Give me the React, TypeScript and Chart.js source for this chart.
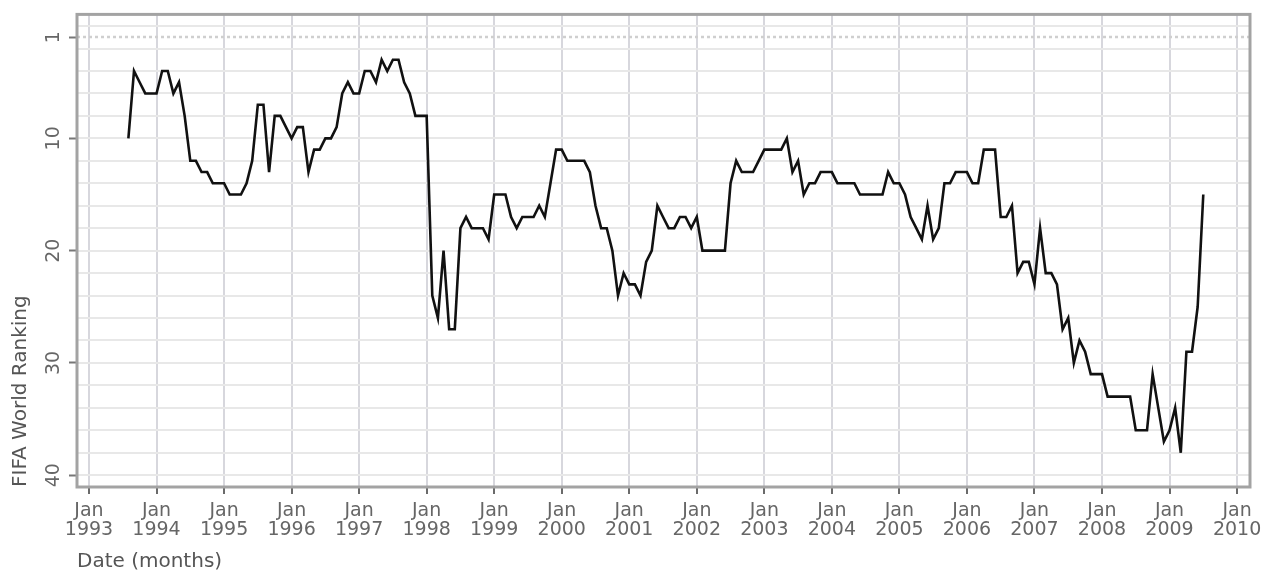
import React, { useEffect, useRef } from 'react';
import { Chart, registerables } from 'chart.js';

Chart.register(...registerables);

// ---- Data: monthly FIFA World Ranking, Aug 1993 – Jul 2009 ----
const FIRST_YEAR = 1993;
const FIRST_MONTH = 7; // August (0 = January)
const rank1993 = [10, 4, 5, 6, 6]; // Aug–Dec
const rank1994 = [6, 4, 4, 6, 5, 8, 12, 12, 13, 13, 14, 14];
const rank1995 = [14, 15, 15, 15, 14, 12, 7, 7, 13, 8, 8, 9];
const rank1996 = [10, 9, 9, 13, 11, 11, 10, 10, 9, 6, 5, 6];
const rank1997 = [6, 4, 4, 5, 3, 4, 3, 3, 5, 6, 8, 8];
const rank1998 = [8, 24, 26, 20, 27, 27, 18, 17, 18, 18, 18, 19];
const rank1999 = [15, 15, 15, 17, 18, 17, 17, 17, 16, 17, 14, 11];
const rank2000 = [11, 12, 12, 12, 12, 13, 16, 18, 18, 20, 24, 22];
const rank2001 = [23, 23, 24, 21, 20, 16, 17, 18, 18, 17, 17, 18];
const rank2002 = [17, 20, 20, 20, 20, 20, 14, 12, 13, 13, 13, 12];
const rank2003 = [11, 11, 11, 11, 10, 13, 12, 15, 14, 14, 13, 13];
const rank2004 = [13, 14, 14, 14, 14, 15, 15, 15, 15, 15, 13, 14];
const rank2005 = [14, 15, 17, 18, 19, 16, 19, 18, 14, 14, 13, 13];
const rank2006 = [13, 14, 14, 11, 11, 11, 17, 17, 16, 22, 21, 21];
const rank2007 = [23, 18, 22, 22, 23, 27, 26, 30, 28, 29, 31, 31];
const rank2008 = [31, 33, 33, 33, 33, 33, 36, 36, 36, 31, 34, 37];
const rank2009 = [36, 34, 38, 29, 29, 25, 15]; // Jan–Jul

const allRanks = [
  ...rank1993, ...rank1994, ...rank1995, ...rank1996, ...rank1997, ...rank1998,
  ...rank1999, ...rank2000, ...rank2001, ...rank2002, ...rank2003, ...rank2004,
  ...rank2005, ...rank2006, ...rank2007, ...rank2008, ...rank2009,
];

// Tick labels
const xTickMonth = 'Jan';
const xTickYears = ['1993', '1994', '1995', '1996', '1997', '1998', '1999', '2000', '2001',
  '2002', '2003', '2004', '2005', '2006', '2007', '2008', '2009', '2010'];
const yTickValues = [1, 10, 20, 30, 40];
const yGridValues = [0, 2, 4, 6, 8, 10, 12, 14, 16, 18, 20, 22, 24, 26, 28, 30, 32, 34, 36, 38, 40];
const yRefLine = 1;
const xTitle = 'Date (months)';
const yTitle = 'FIFA World Ranking';

const FONT = '"DejaVu Sans", sans-serif';

const decorPlugin = {
  id: 'decor',
  beforeDatasetsDraw(chart: any) {
    const { ctx, chartArea: a, scales } = chart;
    const ys = scales.y;
    ctx.save();
    ctx.lineWidth = 2;
    ctx.strokeStyle = '#e8e8e8';
    for (const v of yGridValues) {
      const py = Math.round(ys.getPixelForValue(v));
      ctx.beginPath();
      ctx.moveTo(a.left, py);
      ctx.lineTo(a.right, py);
      ctx.stroke();
    }
    // dotted reference line at rank 1
    ctx.setLineDash([3, 3]);
    ctx.strokeStyle = '#cfcfcf';
    ctx.lineWidth = 2.5;
    const pr = Math.round(ys.getPixelForValue(yRefLine));
    ctx.beginPath();
    ctx.moveTo(a.left, pr);
    ctx.lineTo(a.right, pr);
    ctx.stroke();
    ctx.setLineDash([]);
    // frame
    ctx.strokeStyle = '#a3a3a3';
    ctx.lineWidth = 3;
    ctx.strokeRect(a.left, a.top, a.right - a.left, a.bottom - a.top);
    ctx.restore();
  },
  afterDraw(chart: any) {
    const { ctx, chartArea: a } = chart;
    ctx.save();
    ctx.translate(21, a.bottom);
    ctx.rotate(-Math.PI / 2);
    ctx.font = `20px ${FONT}`;
    ctx.fillStyle = '#555555';
    ctx.textAlign = 'left';
    ctx.textBaseline = 'middle';
    ctx.fillText(yTitle, 0, 0);
    ctx.restore();
  },
};

export default function App() {
  const canvasRef = useRef<HTMLCanvasElement | null>(null);

  useEffect(() => {
    document.body.style.margin = '0';
    const canvas = canvasRef.current;
    if (!canvas) return;
    const points = allRanks.map((r, i) => ({ x: FIRST_MONTH + i, y: r }));
    const chart = new Chart(canvas, {
      type: 'line',
      data: {
        datasets: [
          {
            data: points,
            borderColor: '#111111',
            borderWidth: 2.6,
            pointRadius: 0,
            tension: 0,
            fill: false,
          },
        ],
      },
      options: {
        animation: false,
        responsive: false,
        devicePixelRatio: 1,
        layout: { padding: { top: 13, right: 28, left: 0, bottom: 0 } },
        plugins: { legend: { display: false }, tooltip: { enabled: false } },
        scales: {
          x: {
            type: 'linear',
            min: -2.13,
            max: 206.3,
            afterBuildTicks: (scale: any) => {
              scale.ticks = xTickYears.map((_, i) => ({ value: i * 12 }));
            },
            afterFit: (scale: any) => {
              scale.height = 84;
            },
            ticks: {
              autoSkip: false,
              maxRotation: 0,
              minRotation: 0,
              padding: 8,
              color: '#666666',
              font: { family: FONT, size: 19, lineHeight: 1.0 },
              callback: (_v: any, i: number) => [xTickMonth, xTickYears[i]],
            },
            grid: {
              color: '#d7d7dd',
              lineWidth: 2,
              drawTicks: true,
              tickLength: 7,
              tickColor: '#6a6a6a',
              tickWidth: 2,
            },
            border: { display: false },
            title: {
              display: true,
              text: xTitle,
              align: 'start',
              color: '#555555',
              font: { family: FONT, size: 20, lineHeight: 0.9 },
              padding: { top: 0, bottom: 0 },
            },
          },
          y: {
            type: 'linear',
            reverse: true,
            min: -1.04,
            max: 41.05,
            afterBuildTicks: (scale: any) => {
              scale.ticks = yTickValues.map((v) => ({ value: v }));
            },
            afterFit: (scale: any) => {
              scale.width = 77;
            },
            ticks: {
              autoSkip: false,
              minRotation: 90,
              maxRotation: 90,
              crossAlign: 'center',
              padding: 3,
              color: '#666666',
              font: { family: FONT, size: 19 },
              callback: (v: any) => String(v),
            },
            grid: {
              drawOnChartArea: false,
              drawTicks: true,
              tickLength: 8,
              tickColor: '#777777',
              tickWidth: 2,
            },
            border: { display: false },
          },
        },
      },
      plugins: [decorPlugin],
    } as any);
    return () => chart.destroy();
  }, []);

  return (
    <div style={{ width: 1278, height: 571 }}>
      <canvas ref={canvasRef} width={1278} height={571} style={{ display: 'block' }} />
    </div>
  );
}
